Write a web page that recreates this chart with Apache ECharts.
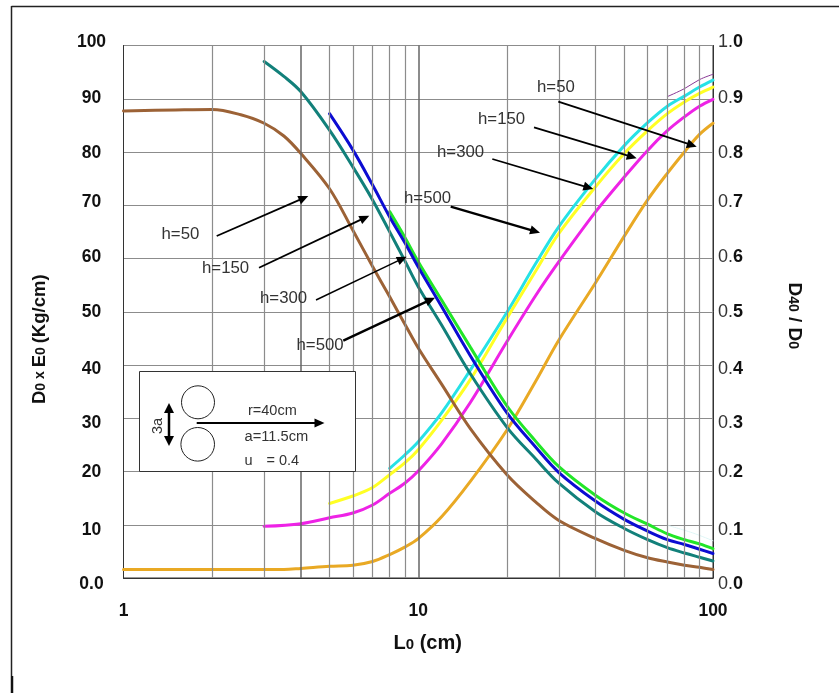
<!DOCTYPE html>
<html>
<head>
<meta charset="utf-8">
<style>html,body{margin:0;padding:0;background:#fff}#c{width:839px;height:693px}</style>
<script src="https://cdn.jsdelivr.net/npm/echarts@6/dist/echarts.min.js"></script>
</head>
<body>
<div id="c"></div>
<script>
// --- values: length Lo (cm), and value on the 0-100 scale
var minorGridL = [2,3,5,6,7,8,9,20,30,40,50,60,70,80,90];
var strongGridL = [4,10];

var h50FallL  = [1,1.5,2,2.5,3,3.5,4,5,6,7,8,9,10,12,15,20,25,30,40,50,60,70,80,90,100];
var h50FallV  = [87.7,87.9,88,87,85.4,83,79.7,73.1,65.3,58.5,52.8,47.7,43.2,36.4,28.1,19.4,14.3,10.8,7.4,5.2,3.8,3,2.4,2,1.6];
var h150FallL = [3,3.5,4,5,6,7,8,9,10,12,15,20,25,30,40,50,60,70,80,90,100];
var h150FallV = [97,94.2,91.3,84.1,77.2,71,65,59.6,54.7,47.5,38.4,28.3,22.4,17.8,12.4,9.3,7.2,5.7,4.7,3.9,3.2];
var h300FallL = [5,6,7,8,9,10,12,15,20,25,30,40,50,60,70,80,90,100];
var h300FallV = [87.2,80.4,73.8,67.8,63,58.4,51,41.8,31,24.6,19.8,14.4,11,8.8,7.2,6.3,5.4,4.6];
var h500FallL = [8,9,10,12,15,20,25,30,40,50,60,70,80,90,100];
var h500FallV = [68.8,64,59.4,52.2,43.4,32.3,25.7,20.9,15.5,12.2,10.1,8.3,7.2,6.4,5.5];

var h50RiseL  = [1,2,3,3.5,4,5,6,7,8,9,10,12,15,20,25,30,40,50,60,70,80,90,100];
var h50RiseV  = [1.6,1.6,1.6,1.6,1.8,2.2,2.4,3.1,4.4,5.8,7.4,11.5,18.1,27.8,36.9,44.7,55.5,64.2,71,76,80,83.3,85.4];
var h150RiseL = [3,4,5,6,7,8,9,10,12,15,20,25,30,40,50,60,70,80,90,100];
var h150RiseV = [9.7,10.2,11.3,12.2,13.7,15.9,17.8,20.1,25.2,32.9,44.4,53,59.4,68.8,75.3,80.3,84,86.6,88.6,89.9];
var h300RiseL = [5,6,7,8,9,10,12,15,20,25,30,40,50,60,70,80,90,100];
var h300RiseV = [14,15.4,17,19.4,21.6,24.1,29.6,37.2,48.8,57.6,64.7,73.5,79.7,84,87.2,89.4,91,92.2];
var h500RiseL = [8,9,10,12,15,20,25,30,40,50,60,70,80,90,100];
var h500RiseV = [20.6,23.1,25.6,31,39,49.9,59,66,75,81.2,85.5,88.6,90.5,92.2,93.5];
var traceUpperL = [70,80,90,100];
var traceUpperV = [90.4,91.9,93.6,94.6];
var traceLowerL = [70,85,100];
var traceLowerV = [9.9,8.5,7];

var leftTickValues  = [0,10,20,30,40,50,60,70,80,90,100];
var leftTickLabels  = ['0.0','10','20','30','40','50','60','70','80','90','100'];
var rightTickLabels = ['0.0','0.1','0.2','0.3','0.4','0.5','0.6','0.7','0.8','0.9','1.0'];
var tickLabelNudge  = [6,5,1,5,4,0,-1,-3,1,-1,-3];

function zip(a, b) { return a.map(function (v, i) { return [v, b[i]]; }); }
function curve(name, l, v, color, width) {
  return { name: name, type: 'line', data: zip(l, v), showSymbol: false, symbol: 'none',
    smooth: 0.35, z: 3, silent: true,
    lineStyle: { color: color, width: width === undefined ? 3 : width, cap: 'round' } };
}

var leftRich = {}, rightRich = {};
var FONT = '"Liberation Sans", Arial, sans-serif';
tickLabelNudge.forEach(function (n, i) {
  var pad = n > 0 ? [2 * n, 0, 0, 0] : [0, 0, -2 * n, 0];
  leftRich['l' + i] = { padding: pad, fontFamily: FONT, fontWeight: 'bold', fontSize: 17.5, color: '#111' };
  rightRich['a' + i] = { padding: pad, fontFamily: FONT, fontWeight: 'normal', fontSize: 18, color: '#333' };
  rightRich['b' + i] = { padding: pad, fontFamily: FONT, fontWeight: 'bold', fontSize: 18, color: '#111' };
});

var chart = echarts.init(document.getElementById('c'), null, { renderer: 'canvas' });

function vline(list, color, width) {
  return {
    name: 'grid' + width, type: 'line', data: [], z: 1, silent: true,
    markLine: { silent: true, symbol: 'none', animation: false, label: { show: false },
      lineStyle: { color: color, width: width, type: 'solid' },
      data: list.map(function (x) { return { xAxis: x }; }) }
  };
}

// --- annotations
var TXT = '#333';
function text(x, y, s, size, opt) {
  var o = { type: 'text', z: 100, x: x, y: y, silent: true,
    style: { text: s, fill: TXT, font: 'normal ' + size + 'px ' + FONT, textVerticalAlign: 'middle', textAlign: 'left' } };
  if (opt) for (var k in opt) o[k] = opt[k];
  return o;
}
function head(x, y, ang, len, wid) {
  var c = Math.cos(ang), s = Math.sin(ang);
  return { type: 'polygon', z: 100, silent: true, shape: { points: [
    [x, y],
    [x - len * c - wid * s, y - len * s + wid * c],
    [x - len * c + wid * s, y - len * s - wid * c]
  ] }, style: { fill: '#000' } };
}
function arrow(a, w) {
  var ang = Math.atan2(a[3] - a[1], a[2] - a[0]);
  return [{ type: 'line', z: 100, silent: true, shape: { x1: a[0], y1: a[1], x2: a[2] - 4 * Math.cos(ang), y2: a[3] - 4 * Math.sin(ang) },
    style: { stroke: '#000', lineWidth: w } }, head(a[2], a[3], ang, 10, 4.5)];
}
var hLabels = [
  [161.5,234,'h=50'],[202,268,'h=150'],[260,298,'h=300'],[296.5,345,'h=500'],
  [537,87,'h=50'],[478,119,'h=150'],[437,152,'h=300'],[404,198,'h=500']
];
var arrows = [
  [216.7,236,308.3,196,1.8],[259,267.7,369.3,215.7,1.8],[316,300,406.7,256.7,1.4],[343.3,340.7,435,297.7,2.4],
  [558.3,101.7,696.7,146.7,1.8],[534,127.3,636.7,158.3,1.8],[492.3,159,593.3,189,1.8],[450.7,206.7,540,232.7,2.4]
];
var graphics = [
  { type: 'line', z: 100, silent: true, shape: { x1: 11.5, y1: 6.5, x2: 839, y2: 6.5 }, style: { stroke: '#222', lineWidth: 1.5 } },
  { type: 'line', z: 100, silent: true, shape: { x1: 11.5, y1: 6, x2: 11.5, y2: 676 }, style: { stroke: '#222', lineWidth: 1.5 } },
  { type: 'line', z: 100, silent: true, shape: { x1: 12, y1: 676, x2: 12, y2: 693 }, style: { stroke: '#111', lineWidth: 2.5 } },
  { type: 'rect', z: 90, silent: true, shape: { x: 139.5, y: 371.5, width: 216, height: 100 }, style: { fill: '#fff', stroke: '#333', lineWidth: 1 } },
  { type: 'circle', z: 100, silent: true, shape: { cx: 198, cy: 402.3, r: 16.5 }, style: { fill: 'none', stroke: '#222', lineWidth: 1 } },
  { type: 'circle', z: 100, silent: true, shape: { cx: 197.7, cy: 444.3, r: 16.8 }, style: { fill: 'none', stroke: '#222', lineWidth: 1 } },
  { type: 'line', z: 100, silent: true, shape: { x1: 169, y1: 408, x2: 169, y2: 441 }, style: { stroke: '#000', lineWidth: 2.5 } },
  head(169, 403, -Math.PI / 2, 10, 5), head(169, 446, Math.PI / 2, 10, 5),
  text(158, 426, '3a', 14.5, { rotation: Math.PI / 2, style: { text: '3a', fill: TXT, font: 'normal 14.5px ' + FONT, textVerticalAlign: 'middle', textAlign: 'center' } }),
  text(248, 410.5, 'r=40cm', 14.5),
  text(244.5, 437, 'a=11.5cm', 14.7),
  text(244.5, 461, 'u', 14.5),
  text(266.5, 461, '= 0.4', 14.5)
];
arrow([196.7, 423, 324.5, 423], 2).forEach(function (g) { graphics.push(g); });
hLabels.forEach(function (h) { graphics.push(text(h[0], h[1], h[2], 16.8)); });
arrows.forEach(function (a) { arrow(a, a[4]).forEach(function (g) { graphics.push(g); }); });

chart.setOption({
  animation: false,
  backgroundColor: '#fff',
  grid: { left: 123.5, right: 126, top: 45.5, bottom: 115, show: true, backgroundColor: 'transparent', borderColor: '#333', borderWidth: 1, containLabel: false, z: 0 },
  xAxis: {
    type: 'log', logBase: 10, min: 1, max: 100,
    name: '{a|L}{b|0}{a| (cm)}', nameLocation: 'middle', nameGap: 55,
    nameTextStyle: { padding: [0, 0, 0, 19], rich: {
      a: { fontFamily: FONT, fontWeight: 'bold', fontSize: 20, color: '#111' },
      b: { fontFamily: FONT, fontWeight: 'bold', fontSize: 15, color: '#111', padding: [3, 0, 0, 0] } } },
    axisLine: { show: true, onZero: false, lineStyle: { color: '#333', width: 1 } },
    axisTick: { show: false }, minorTick: { show: false },
    axisLabel: { margin: 24, fontFamily: FONT, fontWeight: 'bold', fontSize: 17.5, color: '#111' },
    splitLine: { show: false }
  },
  yAxis: [{
    type: 'value', min: 0, max: 100, interval: 10, position: 'left',
    name: '{a|D}{b|0}{c| x }{a|E}{b|0}{c| }{a|(Kg/cm)}', nameLocation: 'middle', nameGap: 74, nameRotate: 90,
    nameTextStyle: { padding: [0, 55, 0, 0], rich: {
      a: { fontFamily: FONT, fontWeight: 'bold', fontSize: 18.5, color: '#111' },
      b: { fontFamily: FONT, fontWeight: 'bold', fontSize: 14, color: '#111', padding: [3, 0, 0, 0] },
      c: { fontFamily: FONT, fontWeight: 'bold', fontSize: 14, color: '#111' } } },
    axisLine: { show: true, lineStyle: { color: '#333', width: 1 } },
    axisTick: { show: false },
    axisLabel: { margin: 32, align: 'center', rich: leftRich,
      formatter: function (v) { var i = leftTickValues.indexOf(v); return '{l' + i + '|' + leftTickLabels[i] + '}'; } },
    splitLine: { show: true, lineStyle: { color: '#8c8c8c', width: 1.2 } }
  }, {
    type: 'value', min: 0, max: 1, interval: 0.1, position: 'right',
    name: '{a|D}{b|40}{a| / D}{b|0}', nameLocation: 'middle', nameGap: 72, nameRotate: -90,
    nameTextStyle: { padding: [0, 0, 0, 8], rich: {
      a: { fontFamily: FONT, fontWeight: 'bold', fontSize: 19, color: '#111' },
      b: { fontFamily: FONT, fontWeight: 'bold', fontSize: 14, color: '#111', padding: [3, 0, 0, 0] } } },
    axisLine: { show: true, lineStyle: { color: '#333', width: 1 } },
    axisTick: { show: false },
    axisLabel: { margin: 5, align: 'left', rich: rightRich,
      formatter: function (v) { var i = Math.round(v * 10), s = rightTickLabels[i];
        return '{a' + i + '|' + s.slice(0, 2) + '}{b' + i + '|' + s.slice(2) + '}'; } },
    splitLine: { show: false }
  }],
  series: [
    vline(minorGridL, '#8c8c8c', 1.2),
    vline(strongGridL, '#666', 1.5),
    curve('h=500 rise', h500RiseL, h500RiseV, '#26e2e6'),
    curve('h=300 rise', h300RiseL, h300RiseV, '#ffff24'),
    curve('h=150 rise', h150RiseL, h150RiseV, '#ee22e6'),
    curve('h=50 rise', h50RiseL, h50RiseV, '#e9a924'),
    curve('h=50 fall', h50FallL, h50FallV, '#9c6236'),
    curve('h=150 fall', h150FallL, h150FallV, '#12807a'),
    curve('h=500 fall', h500FallL, h500FallV, '#22e628'),
    curve('h=300 fall', h300FallL, h300FallV, '#0c0cd2'),
    curve('trace upper', traceUpperL, traceUpperV, '#8a3a96', 1),
    curve('trace lower', traceLowerL, traceLowerV, '#dff6f6', 1)
  ],
  graphic: graphics
});
</script>
</body>
</html>
